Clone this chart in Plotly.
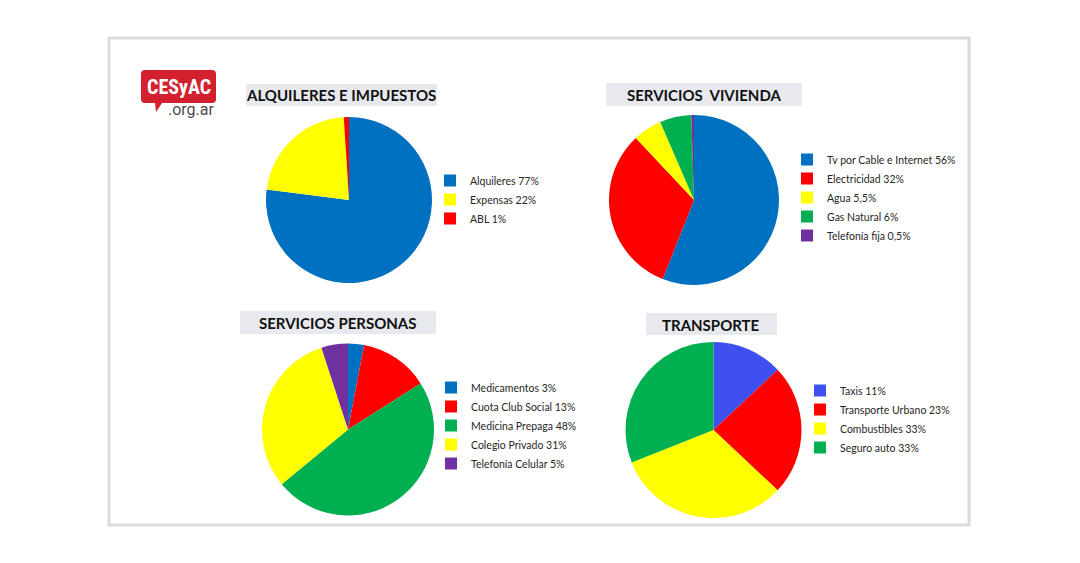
import plotly.graph_objects as go

W, H = 1080, 563

# ---- data ----
alq_labels = ["Alquileres 77%", "Expensas 22%", "ABL 1%"]
alq_values = [77, 22, 1]
alq_colors = ["#0070c0", "#ffff00", "#ff0000"]

viv_labels = ["Tv por Cable e Internet 56%", "Electricidad 32%", "Agua 5,5%",
              "Gas Natural 6%", "Telefonía fija 0,5%"]
viv_values = [56, 32, 5.5, 6, 0.5]
viv_colors = ["#0070c0", "#ff0000", "#ffff00", "#00b050", "#7030a0"]

per_labels = ["Medicamentos 3%", "Cuota Club Social 13%", "Medicina Prepaga 48%",
              "Colegio Privado 31%", "Telefonía Celular 5%"]
per_values = [3, 13, 48, 31, 5]
per_colors = ["#0070c0", "#ff0000", "#00b050", "#ffff00", "#7030a0"]

tra_labels = ["Taxis 11%", "Transporte Urbano 23%", "Combustibles 33%", "Seguro auto 33%"]
tra_values = [13, 24, 32, 31]
tra_colors = ["#3d50f0", "#ff0000", "#ffff00", "#00b050"]

titles = ["ALQUILERES E IMPUESTOS", "SERVICIOS  VIVIENDA", "SERVICIOS PERSONAS", "TRANSPORTE"]


def px(x):
    return x / W


def py(y):
    return 1 - y / H


def dom(x0, x1, y0, y1):
    return dict(x=[px(x0), px(x1)], y=[py(y1), py(y0)])


fig = go.Figure()

pies = [
    (alq_labels, alq_values, alq_colors, dom(266, 432, 117, 283), "legend"),
    (viv_labels, viv_values, viv_colors, dom(609, 779, 115, 285), "legend2"),
    (per_labels, per_values, per_colors, dom(262, 434, 343, 516), "legend3"),
    (tra_labels, tra_values, tra_colors, dom(625, 802, 342, 518), "legend4"),
]
for labels, values, colors, d, lg in pies:
    fig.add_trace(go.Pie(
        labels=labels, values=values, sort=False, direction="clockwise",
        rotation=0, textinfo="none", hoverinfo="label",
        marker=dict(colors=colors, line=dict(width=0)),
        domain=d, legend=lg, showlegend=True,
    ))

leg_font = dict(family="Lato, Open Sans, sans-serif", size=10.5, color="#262626")


def leg(x, y):
    return dict(x=px(x), y=py(y), xanchor="left", yanchor="top",
                font=leg_font, bgcolor="rgba(0,0,0,0)", itemclick=False,
                itemdoubleclick=False, tracegroupgap=0)


shapes = [
    # panel border
    dict(type="rect", xref="paper", yref="paper", x0=px(109), x1=px(969),
         y0=py(525), y1=py(38), line=dict(color="#d9dbe0", width=3),
         fillcolor="white", layer="below"),
]

# title boxes
boxes = [(246, 437, 84, 106), (606, 802, 83, 106), (240, 436, 311, 334), (646, 777, 313, 335)]
for (x0, x1, y0, y1), t in zip(boxes, titles):
    shapes.append(dict(type="rect", xref="paper", yref="paper", x0=px(x0), x1=px(x1),
                       y0=py(y1), y1=py(y0), line=dict(width=0), fillcolor="#e7e9ef",
                       layer="below"))

# logo bubble (rounded rect + tail)
lx0, lx1, ly0, ly1, r = 141, 216, 70, 103, 4
path = (f"M {px(lx0 + r)},{py(ly0)} L {px(lx1 - r)},{py(ly0)} "
        f"Q {px(lx1)},{py(ly0)} {px(lx1)},{py(ly0 + r)} "
        f"L {px(lx1)},{py(ly1 - r)} Q {px(lx1)},{py(ly1)} {px(lx1 - r)},{py(ly1)} "
        f"L {px(162)},{py(ly1)} L {px(156)},{py(112)} L {px(155)},{py(ly1)} "
        f"L {px(lx0 + r)},{py(ly1)} Q {px(lx0)},{py(ly1)} {px(lx0)},{py(ly1 - r)} "
        f"L {px(lx0)},{py(ly0 + r)} Q {px(lx0)},{py(ly0)} {px(lx0 + r)},{py(ly0)} Z")
shapes.append(dict(type="path", xref="paper", yref="paper", path=path,
                   fillcolor="#d3202f", line=dict(width=0)))

annotations = []
title_pos = [(341, 95), (704, 95), (338, 323), (711, 325)]
for (x, y), t in zip(title_pos, titles):
    annotations.append(dict(text=f"<b>{t}</b>", x=px(x), y=py(y), xref="paper", yref="paper",
                            showarrow=False, xanchor="center", yanchor="middle",
                            font=dict(family="Lato, Open Sans, sans-serif", size=15, color="#111111")))

annotations.append(dict(text="<b>CESyAC</b>", x=px(178.5), y=py(86.5), xref="paper", yref="paper",
                        showarrow=False, xanchor="center", yanchor="middle",
                        font=dict(family="Liberation Sans Narrow, Roboto Condensed, Roboto, sans-serif",
                                  size=20, color="white")))
annotations.append(dict(text=".org.ar", x=px(217), y=py(110), xref="paper", yref="paper",
                        showarrow=False, xanchor="right", yanchor="middle",
                        font=dict(family="Roboto, Liberation Sans, sans-serif", size=16, color="#4d4d4d")))

fig.update_layout(
    width=W, height=H, margin=dict(l=0, r=0, t=0, b=0),
    paper_bgcolor="white", plot_bgcolor="white",
    shapes=shapes, annotations=annotations,
    legend=leg(430, 166),
    legend2=leg(787, 145),
    legend3=leg(431, 373),
    legend4=leg(800, 376),
)

fig.write_html("out.html")
